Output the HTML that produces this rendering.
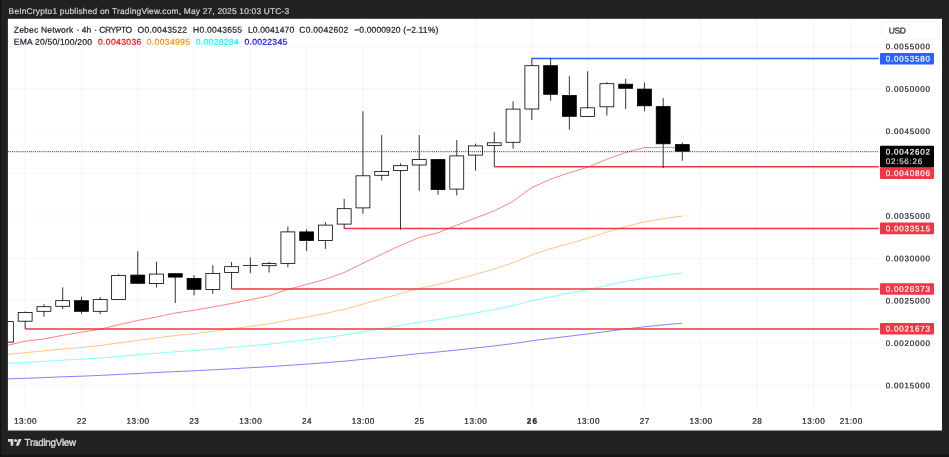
<!DOCTYPE html>
<html><head><meta charset="utf-8"><title>chart</title>
<style>
html,body{margin:0;padding:0;}
body{width:949px;height:457px;overflow:hidden;background:#212121;font-family:"Liberation Sans",sans-serif;position:relative;}
svg{position:absolute;left:0;top:0;}
#txt{position:absolute;left:0;top:0;width:949px;height:457px;will-change:transform;-webkit-text-stroke:0.2px;color:#131722;white-space:nowrap}
#txt div{position:absolute;left:0;top:0;transform-origin:0 0;line-height:12px;font-size:9.1px}
#txt .hdr{color:#d4d4d4}
#txt .w{color:#fff}
#txt .cd{color:#d6d6d6}
#txt .tv{color:#d4d4d4;-webkit-text-stroke:0.42px}
</style></head><body>
<svg width="949" height="457" viewBox="0 0 949 457">
<defs><clipPath id="pane"><rect x="8" y="18.8" width="871" height="392.2"/></clipPath></defs>
<rect x="0" y="0" width="949" height="457" fill="#121212"/>
<rect x="1.1" y="0" width="947.9" height="454.8" fill="#212121"/>
<rect x="7.9" y="18.8" width="934.1" height="411.7" fill="#fff"/>
<line x1="8" y1="46.40" x2="879.0" y2="46.40" stroke="#f3f5f5" stroke-width="0.8"/>
<line x1="8" y1="88.78" x2="879.0" y2="88.78" stroke="#f3f5f5" stroke-width="0.8"/>
<line x1="8" y1="131.15" x2="879.0" y2="131.15" stroke="#f3f5f5" stroke-width="0.8"/>
<line x1="8" y1="173.53" x2="879.0" y2="173.53" stroke="#f3f5f5" stroke-width="0.8"/>
<line x1="8" y1="215.90" x2="879.0" y2="215.90" stroke="#f3f5f5" stroke-width="0.8"/>
<line x1="8" y1="258.27" x2="879.0" y2="258.27" stroke="#f3f5f5" stroke-width="0.8"/>
<line x1="8" y1="300.65" x2="879.0" y2="300.65" stroke="#f3f5f5" stroke-width="0.8"/>
<line x1="8" y1="343.02" x2="879.0" y2="343.02" stroke="#f3f5f5" stroke-width="0.8"/>
<line x1="8" y1="385.40" x2="879.0" y2="385.40" stroke="#f3f5f5" stroke-width="0.8"/>
<line x1="25.15" y1="19" x2="25.15" y2="411" stroke="#f1f1f2" stroke-width="0.8"/>
<line x1="81.45" y1="19" x2="81.45" y2="411" stroke="#f1f1f2" stroke-width="0.8"/>
<line x1="137.75" y1="19" x2="137.75" y2="411" stroke="#f1f1f2" stroke-width="0.8"/>
<line x1="194.04" y1="19" x2="194.04" y2="411" stroke="#f1f1f2" stroke-width="0.8"/>
<line x1="250.34" y1="19" x2="250.34" y2="411" stroke="#f1f1f2" stroke-width="0.8"/>
<line x1="306.64" y1="19" x2="306.64" y2="411" stroke="#f1f1f2" stroke-width="0.8"/>
<line x1="362.94" y1="19" x2="362.94" y2="411" stroke="#f1f1f2" stroke-width="0.8"/>
<line x1="419.24" y1="19" x2="419.24" y2="411" stroke="#f1f1f2" stroke-width="0.8"/>
<line x1="475.53" y1="19" x2="475.53" y2="411" stroke="#f1f1f2" stroke-width="0.8"/>
<line x1="531.83" y1="19" x2="531.83" y2="411" stroke="#f1f1f2" stroke-width="0.8"/>
<line x1="588.13" y1="19" x2="588.13" y2="411" stroke="#f1f1f2" stroke-width="0.8"/>
<line x1="644.43" y1="19" x2="644.43" y2="411" stroke="#f1f1f2" stroke-width="0.8"/>
<line x1="700.73" y1="19" x2="700.73" y2="411" stroke="#f1f1f2" stroke-width="0.8"/>
<line x1="757.02" y1="19" x2="757.02" y2="411" stroke="#f1f1f2" stroke-width="0.8"/>
<line x1="813.32" y1="19" x2="813.32" y2="411" stroke="#f1f1f2" stroke-width="0.8"/>
<line x1="850.85" y1="19" x2="850.85" y2="411" stroke="#f1f1f2" stroke-width="0.8"/>
<rect x="12" y="23" width="430" height="23" fill="#fff"/>
<polyline clip-path="url(#pane)" points="6.4,379.0 25.1,378.3 43.9,377.6 62.7,376.8 81.4,376.2 100.2,375.4 119.0,374.4 137.7,373.5 156.5,372.5 175.3,371.6 194.0,370.8 212.8,369.8 231.6,368.8 250.3,367.7 269.1,366.7 287.9,365.4 306.6,364.1 325.4,362.7 344.2,361.2 362.9,359.3 381.7,357.5 400.5,355.6 419.2,353.6 438.0,352.0 456.8,350.0 475.5,348.0 494.3,345.9 513.1,343.6 531.8,340.8 550.6,338.4 569.4,336.2 588.1,333.9 606.9,331.4 625.7,329.0 644.4,326.8 663.2,324.9 682.0,323.2" fill="none" stroke="#0000ff" stroke-width="0.72" stroke-opacity="0.68" stroke-linejoin="round"/>
<polyline clip-path="url(#pane)" points="6.4,363.5 25.1,362.5 43.9,361.4 62.7,360.2 81.4,359.2 100.2,358.0 119.0,356.4 137.7,354.9 156.5,353.3 175.3,351.8 194.0,350.6 212.8,349.1 231.6,347.4 250.3,345.8 269.1,344.2 287.9,341.9 306.6,339.9 325.4,337.6 344.2,335.1 362.9,331.9 381.7,328.7 400.5,325.5 419.2,322.2 438.0,319.6 456.8,316.3 475.5,313.0 494.3,309.6 513.1,305.6 531.8,300.8 550.6,296.8 569.4,293.2 588.1,289.5 606.9,285.4 625.7,281.5 644.4,278.1 663.2,275.4 682.0,273.0" fill="none" stroke="#00ffff" stroke-width="0.72" stroke-opacity="0.68" stroke-linejoin="round"/>
<polyline clip-path="url(#pane)" points="6.4,354.4 25.1,352.7 43.9,350.9 62.7,348.9 81.4,347.5 100.2,345.6 119.0,342.8 137.7,340.5 156.5,337.9 175.3,335.5 194.0,333.7 212.8,331.3 231.6,328.8 250.3,326.3 269.1,323.8 287.9,320.2 306.6,317.1 325.4,313.5 344.2,309.3 362.9,304.1 381.7,298.9 400.5,293.6 419.2,288.4 438.0,284.5 456.8,279.4 475.5,274.2 494.3,269.0 513.1,262.7 531.8,255.0 550.6,248.7 569.4,243.5 588.1,238.2 606.9,232.1 625.7,226.5 644.4,221.8 663.2,218.7 682.0,216.1" fill="none" stroke="#ff8800" stroke-width="0.72" stroke-opacity="0.68" stroke-linejoin="round"/>
<polyline clip-path="url(#pane)" points="6.4,345.6 25.1,341.2 43.9,339.0 62.7,335.3 81.4,332.2 100.2,329.2 119.0,324.6 137.7,320.5 156.5,317.0 175.3,313.0 194.0,310.3 212.8,307.0 231.6,303.5 250.3,299.8 269.1,295.8 287.9,289.4 306.6,284.5 325.4,279.2 344.2,272.5 362.9,263.3 381.7,254.2 400.5,245.4 419.2,237.5 438.0,232.8 456.8,225.2 475.5,218.0 494.3,210.8 513.1,201.3 531.8,187.6 550.6,179.2 569.4,172.7 588.1,167.1 606.9,159.2 625.7,152.5 644.4,147.6 663.2,147.3 682.0,147.8" fill="none" stroke="#ff0000" stroke-width="0.72" stroke-opacity="0.68" stroke-linejoin="round"/>
<line x1="25.15" y1="329.00" x2="878.8" y2="329.00" stroke="#f23645" stroke-width="1.5"/>
<line x1="231.58" y1="289.01" x2="878.8" y2="289.01" stroke="#f23645" stroke-width="1.5"/>
<line x1="344.17" y1="228.49" x2="878.8" y2="228.49" stroke="#f23645" stroke-width="1.5"/>
<line x1="494.30" y1="166.69" x2="878.8" y2="166.69" stroke="#f23645" stroke-width="1.5"/>
<line x1="531.83" y1="58.43" x2="878.8" y2="58.43" stroke="#2962ff" stroke-width="1.5"/>
<g clip-path="url(#pane)">
<line x1="6.38" y1="321.20" x2="6.38" y2="342.50" stroke="#000" stroke-width="0.8"/>
<rect x="-0.57" y="321.60" width="13.90" height="20.50" fill="#fff" stroke="#000" stroke-width="0.8"/>
<line x1="25.15" y1="311.50" x2="25.15" y2="328.80" stroke="#000" stroke-width="0.8"/>
<rect x="18.20" y="312.40" width="13.90" height="8.80" fill="#fff" stroke="#000" stroke-width="0.8"/>
<line x1="43.92" y1="304.20" x2="43.92" y2="316.80" stroke="#000" stroke-width="0.8"/>
<rect x="36.97" y="306.70" width="13.90" height="4.60" fill="#fff" stroke="#000" stroke-width="0.8"/>
<line x1="62.68" y1="287.50" x2="62.68" y2="309.20" stroke="#000" stroke-width="0.8"/>
<rect x="55.73" y="300.70" width="13.90" height="5.60" fill="#fff" stroke="#000" stroke-width="0.8"/>
<line x1="81.45" y1="296.70" x2="81.45" y2="313.80" stroke="#000" stroke-width="0.8"/>
<rect x="74.50" y="300.70" width="13.90" height="10.60" fill="#000" stroke="#000" stroke-width="0.8"/>
<line x1="100.21" y1="297.00" x2="100.21" y2="314.20" stroke="#000" stroke-width="0.8"/>
<rect x="93.26" y="299.60" width="13.90" height="11.70" fill="#fff" stroke="#000" stroke-width="0.8"/>
<line x1="118.58" y1="274.20" x2="118.58" y2="299.80" stroke="#000" stroke-width="0.8"/>
<rect x="111.63" y="275.40" width="13.90" height="24.00" fill="#fff" stroke="#000" stroke-width="0.8"/>
<line x1="137.75" y1="251.20" x2="137.75" y2="283.70" stroke="#000" stroke-width="0.8"/>
<rect x="130.80" y="275.10" width="13.90" height="8.20" fill="#000" stroke="#000" stroke-width="0.8"/>
<line x1="156.51" y1="261.70" x2="156.51" y2="287.50" stroke="#000" stroke-width="0.8"/>
<rect x="149.56" y="274.10" width="13.90" height="9.50" fill="#fff" stroke="#000" stroke-width="0.8"/>
<line x1="175.28" y1="273.30" x2="175.28" y2="303.00" stroke="#000" stroke-width="0.8"/>
<rect x="168.33" y="273.70" width="13.90" height="3.40" fill="#000" stroke="#000" stroke-width="0.8"/>
<line x1="194.04" y1="275.20" x2="194.04" y2="295.50" stroke="#000" stroke-width="0.8"/>
<rect x="187.09" y="278.40" width="13.90" height="10.90" fill="#000" stroke="#000" stroke-width="0.8"/>
<line x1="212.81" y1="265.20" x2="212.81" y2="293.70" stroke="#000" stroke-width="0.8"/>
<rect x="205.86" y="273.40" width="13.90" height="16.00" fill="#fff" stroke="#000" stroke-width="0.8"/>
<line x1="231.58" y1="262.00" x2="231.58" y2="288.80" stroke="#000" stroke-width="0.8"/>
<rect x="224.63" y="266.70" width="13.90" height="5.70" fill="#fff" stroke="#000" stroke-width="0.8"/>
<line x1="250.34" y1="257.50" x2="250.34" y2="273.30" stroke="#000" stroke-width="0.8"/>
<line x1="242.99" y1="265.50" x2="257.69" y2="265.50" stroke="#000" stroke-width="0.8"/>
<line x1="269.11" y1="261.70" x2="269.11" y2="272.50" stroke="#000" stroke-width="0.8"/>
<rect x="262.16" y="263.60" width="13.90" height="2.10" fill="#fff" stroke="#000" stroke-width="0.8"/>
<line x1="287.87" y1="226.50" x2="287.87" y2="267.30" stroke="#000" stroke-width="0.8"/>
<rect x="280.92" y="231.90" width="13.90" height="31.50" fill="#fff" stroke="#000" stroke-width="0.8"/>
<line x1="306.64" y1="229.20" x2="306.64" y2="251.00" stroke="#000" stroke-width="0.8"/>
<rect x="299.69" y="231.90" width="13.90" height="8.60" fill="#000" stroke="#000" stroke-width="0.8"/>
<line x1="325.41" y1="222.20" x2="325.41" y2="248.90" stroke="#000" stroke-width="0.8"/>
<rect x="318.46" y="225.10" width="13.90" height="15.40" fill="#fff" stroke="#000" stroke-width="0.8"/>
<line x1="344.17" y1="198.80" x2="344.17" y2="228.50" stroke="#000" stroke-width="0.8"/>
<rect x="337.22" y="208.70" width="13.90" height="15.40" fill="#fff" stroke="#000" stroke-width="0.8"/>
<line x1="362.94" y1="111.20" x2="362.94" y2="213.80" stroke="#000" stroke-width="0.8"/>
<rect x="355.99" y="175.80" width="13.90" height="32.10" fill="#fff" stroke="#000" stroke-width="0.8"/>
<line x1="381.70" y1="135.00" x2="381.70" y2="180.50" stroke="#000" stroke-width="0.8"/>
<rect x="374.75" y="171.40" width="13.90" height="3.90" fill="#fff" stroke="#000" stroke-width="0.8"/>
<line x1="400.47" y1="163.30" x2="400.47" y2="229.60" stroke="#000" stroke-width="0.8"/>
<rect x="393.52" y="165.70" width="13.90" height="4.80" fill="#fff" stroke="#000" stroke-width="0.8"/>
<line x1="419.24" y1="135.00" x2="419.24" y2="190.80" stroke="#000" stroke-width="0.8"/>
<rect x="412.29" y="159.60" width="13.90" height="5.40" fill="#fff" stroke="#000" stroke-width="0.8"/>
<line x1="438.00" y1="159.20" x2="438.00" y2="194.80" stroke="#000" stroke-width="0.8"/>
<rect x="431.05" y="159.60" width="13.90" height="30.00" fill="#000" stroke="#000" stroke-width="0.8"/>
<line x1="456.77" y1="140.00" x2="456.77" y2="195.50" stroke="#000" stroke-width="0.8"/>
<rect x="449.82" y="155.90" width="13.90" height="33.20" fill="#fff" stroke="#000" stroke-width="0.8"/>
<line x1="475.53" y1="143.70" x2="475.53" y2="170.60" stroke="#000" stroke-width="0.8"/>
<rect x="468.58" y="145.90" width="13.90" height="9.20" fill="#fff" stroke="#000" stroke-width="0.8"/>
<line x1="494.30" y1="132.10" x2="494.30" y2="166.70" stroke="#000" stroke-width="0.8"/>
<rect x="487.35" y="142.80" width="13.90" height="2.60" fill="#fff" stroke="#000" stroke-width="0.8"/>
<line x1="513.07" y1="101.30" x2="513.07" y2="148.70" stroke="#000" stroke-width="0.8"/>
<rect x="506.12" y="109.10" width="13.90" height="33.20" fill="#fff" stroke="#000" stroke-width="0.8"/>
<line x1="531.83" y1="58.30" x2="531.83" y2="120.00" stroke="#000" stroke-width="0.8"/>
<rect x="524.88" y="65.70" width="13.90" height="43.30" fill="#fff" stroke="#000" stroke-width="0.8"/>
<line x1="550.60" y1="58.30" x2="550.60" y2="100.80" stroke="#000" stroke-width="0.8"/>
<rect x="543.65" y="65.70" width="13.90" height="28.60" fill="#000" stroke="#000" stroke-width="0.8"/>
<line x1="569.36" y1="76.20" x2="569.36" y2="129.70" stroke="#000" stroke-width="0.8"/>
<rect x="562.41" y="95.40" width="13.90" height="20.90" fill="#000" stroke="#000" stroke-width="0.8"/>
<line x1="587.63" y1="71.20" x2="587.63" y2="116.80" stroke="#000" stroke-width="0.8"/>
<rect x="580.68" y="107.80" width="13.90" height="8.60" fill="#fff" stroke="#000" stroke-width="0.8"/>
<line x1="606.90" y1="82.20" x2="606.90" y2="115.60" stroke="#000" stroke-width="0.8"/>
<rect x="599.95" y="83.70" width="13.90" height="23.10" fill="#fff" stroke="#000" stroke-width="0.8"/>
<line x1="625.66" y1="78.80" x2="625.66" y2="109.00" stroke="#000" stroke-width="0.8"/>
<rect x="618.71" y="84.20" width="13.90" height="4.10" fill="#000" stroke="#000" stroke-width="0.8"/>
<line x1="644.43" y1="82.50" x2="644.43" y2="111.30" stroke="#000" stroke-width="0.8"/>
<rect x="637.48" y="89.10" width="13.90" height="16.70" fill="#000" stroke="#000" stroke-width="0.8"/>
<line x1="663.19" y1="98.00" x2="663.19" y2="167.80" stroke="#000" stroke-width="0.8"/>
<rect x="656.24" y="106.60" width="13.90" height="37.20" fill="#000" stroke="#000" stroke-width="0.8"/>
<line x1="682.31" y1="142.50" x2="682.31" y2="160.80" stroke="#000" stroke-width="0.8"/>
<rect x="675.36" y="144.60" width="13.90" height="6.70" fill="#000" stroke="#000" stroke-width="0.8"/>
</g>
<line x1="8" y1="151.67" x2="879.0" y2="151.67" stroke="#383838" stroke-width="1.15" stroke-dasharray="0.84 1.25894" stroke-dashoffset="0.09"/>
<rect x="882.2" y="21.8" width="56.6" height="17.5" rx="3" fill="#fff" stroke="#f3f4f6" stroke-width="0.8"/>
<rect x="880.0" y="52.90" width="54.0" height="11.6" rx="1" fill="#2962ff"/>
<rect x="880.0" y="222.60" width="54.0" height="11.6" rx="1" fill="#f23645"/>
<rect x="880.0" y="283.20" width="54.0" height="11.6" rx="1" fill="#f23645"/>
<rect x="880.0" y="323.00" width="54.0" height="11.6" rx="1" fill="#f23645"/>
<rect x="880.0" y="167.45" width="54.0" height="11.6" rx="1" fill="#f23645"/>
<rect x="880.0" y="145.7" width="54.0" height="21.75" rx="1" fill="#000"/>
<g fill="#d4d4d4" transform="translate(7.9,437.5) scale(0.386,0.38)"><path d="M14 22H7V11H0V4h14v18z"/><circle cx="20" cy="8" r="4"/><path d="M28 22h-8l7.5-18h8L28 22z"/></g>
</svg>
<div id="txt">
<div class="w" style="transform:translate(885.80px,53.47px) rotate(0.03deg);font-size:8.0px;letter-spacing:0.798px;">0.0053580</div>
<div class="w" style="transform:translate(885.80px,223.17px) rotate(0.03deg);font-size:8.0px;letter-spacing:0.798px;">0.0033515</div>
<div class="w" style="transform:translate(885.80px,283.77px) rotate(0.03deg);font-size:8.0px;letter-spacing:0.798px;">0.0026373</div>
<div class="w" style="transform:translate(885.80px,323.57px) rotate(0.03deg);font-size:8.0px;letter-spacing:0.798px;">0.0021673</div>
<div class="w" style="transform:translate(885.80px,168.02px) rotate(0.03deg);font-size:8.0px;letter-spacing:0.798px;">0.0040806</div>
<div class="w" style="transform:translate(885.80px,146.42px) rotate(0.03deg);font-size:8.0px;letter-spacing:0.798px;">0.0042602</div>
<div class="cd" style="transform:translate(885.80px,156.07px) rotate(0.03deg);font-size:8.0px;letter-spacing:0.751px;">02:56:26</div>
<div style="transform:translate(885.80px,41.32px) rotate(0.03deg);font-size:8.0px;letter-spacing:0.798px;">0.0055000</div>
<div style="transform:translate(885.80px,83.70px) rotate(0.03deg);font-size:8.0px;letter-spacing:0.798px;">0.0050000</div>
<div style="transform:translate(885.80px,126.07px) rotate(0.03deg);font-size:8.0px;letter-spacing:0.798px;">0.0045000</div>
<div style="transform:translate(885.80px,210.82px) rotate(0.03deg);font-size:8.0px;letter-spacing:0.798px;">0.0035000</div>
<div style="transform:translate(885.80px,253.19px) rotate(0.03deg);font-size:8.0px;letter-spacing:0.798px;">0.0030000</div>
<div style="transform:translate(885.80px,295.57px) rotate(0.03deg);font-size:8.0px;letter-spacing:0.798px;">0.0025000</div>
<div style="transform:translate(885.80px,337.94px) rotate(0.03deg);font-size:8.0px;letter-spacing:0.798px;">0.0020000</div>
<div style="transform:translate(885.80px,380.32px) rotate(0.03deg);font-size:8.0px;letter-spacing:0.798px;">0.0015000</div>
<div style="transform:translate(13.95px,415.70px) rotate(0.03deg);font-size:8.2px;letter-spacing:0.521px;">13:00</div>
<div style="transform:translate(76.75px,415.70px) rotate(0.03deg);font-size:8.2px;letter-spacing:0.482px;">22</div>
<div style="transform:translate(126.55px,415.70px) rotate(0.03deg);font-size:8.2px;letter-spacing:0.521px;">13:00</div>
<div style="transform:translate(189.34px,415.70px) rotate(0.03deg);font-size:8.2px;letter-spacing:0.482px;">23</div>
<div style="transform:translate(239.14px,415.70px) rotate(0.03deg);font-size:8.2px;letter-spacing:0.521px;">13:00</div>
<div style="transform:translate(301.94px,415.70px) rotate(0.03deg);font-size:8.2px;letter-spacing:0.482px;">24</div>
<div style="transform:translate(351.74px,415.70px) rotate(0.03deg);font-size:8.2px;letter-spacing:0.521px;">13:00</div>
<div style="transform:translate(414.54px,415.70px) rotate(0.03deg);font-size:8.2px;letter-spacing:0.482px;">25</div>
<div style="transform:translate(464.33px,415.70px) rotate(0.03deg);font-size:8.2px;letter-spacing:0.521px;">13:00</div>
<div style="transform:translate(526.73px,415.70px) rotate(0.03deg);font-size:8.2px;letter-spacing:1.282px;font-weight:bold;">26</div>
<div style="transform:translate(576.93px,415.70px) rotate(0.03deg);font-size:8.2px;letter-spacing:0.521px;">13:00</div>
<div style="transform:translate(639.73px,415.70px) rotate(0.03deg);font-size:8.2px;letter-spacing:0.482px;">27</div>
<div style="transform:translate(689.53px,415.70px) rotate(0.03deg);font-size:8.2px;letter-spacing:0.521px;">13:00</div>
<div style="transform:translate(752.32px,415.70px) rotate(0.03deg);font-size:8.2px;letter-spacing:0.482px;">28</div>
<div style="transform:translate(802.12px,415.70px) rotate(0.03deg);font-size:8.2px;letter-spacing:0.521px;">13:00</div>
<div style="transform:translate(839.65px,415.70px) rotate(0.03deg);font-size:8.2px;letter-spacing:0.521px;">21:00</div>
<div class="hdr" style="transform:translate(8.60px,4.95px) rotate(0.03deg);font-size:8.4px;letter-spacing:0.194px;">BeInCrypto1 published on TradingView.com, May 27, 2025 10:03 UTC-3</div>
<div style="transform:translate(13.80px,23.70px) rotate(0.03deg);font-size:8.55px;letter-spacing:0.165px;">Zebec Network</div>
<div style="transform:translate(76.55px,23.70px) rotate(0.03deg);font-size:8.55px;letter-spacing:0.000px;">·</div>
<div style="transform:translate(81.70px,23.70px) rotate(0.03deg);font-size:8.55px;letter-spacing:0.092px;">4h</div>
<div style="transform:translate(94.35px,23.70px) rotate(0.03deg);font-size:8.55px;letter-spacing:0.000px;">·</div>
<div style="transform:translate(99.20px,23.70px) rotate(0.03deg);font-size:8.55px;letter-spacing:-0.464px;">CRYPTO</div>
<div style="transform:translate(137.50px,23.70px) rotate(0.03deg);font-size:8.55px;letter-spacing:0.270px;">O0.0043522</div>
<div style="transform:translate(193.00px,23.70px) rotate(0.03deg);font-size:8.55px;letter-spacing:0.268px;">H0.0043655</div>
<div style="transform:translate(248.00px,23.70px) rotate(0.03deg);font-size:8.55px;letter-spacing:0.114px;">L0.0041470</div>
<div style="transform:translate(299.20px,23.70px) rotate(0.03deg);font-size:8.55px;letter-spacing:0.279px;">C0.0042602</div>
<div style="transform:translate(354.20px,23.70px) rotate(0.03deg);font-size:8.55px;letter-spacing:0.112px;">−0.0000920 (−2.11%)</div>
<div style="transform:translate(13.80px,35.85px) rotate(0.03deg);font-size:8.55px;letter-spacing:0.193px;">EMA 20/50/100/200</div>
<div style="transform:translate(98.00px,35.85px) rotate(0.03deg);font-size:8.55px;letter-spacing:0.361px;color:#ff0000;">0.0043036</div>
<div style="transform:translate(146.70px,35.85px) rotate(0.03deg);font-size:8.55px;letter-spacing:0.361px;color:#ff8a00;">0.0034995</div>
<div style="transform:translate(195.80px,35.85px) rotate(0.03deg);font-size:8.55px;letter-spacing:0.311px;color:#00ffff;">0.0028284</div>
<div style="transform:translate(244.50px,35.85px) rotate(0.03deg);font-size:8.55px;letter-spacing:0.286px;color:#0000ff;">0.0022345</div>
<div style="transform:translate(888.70px,24.45px) rotate(0.03deg);font-size:8.5px;letter-spacing:-0.322px;">USD</div>
<div class="tv" style="transform:translate(24.60px,436.75px) rotate(0.03deg);font-size:9.8px;letter-spacing:-0.236px;">TradingView</div>
</div>
</body></html>
